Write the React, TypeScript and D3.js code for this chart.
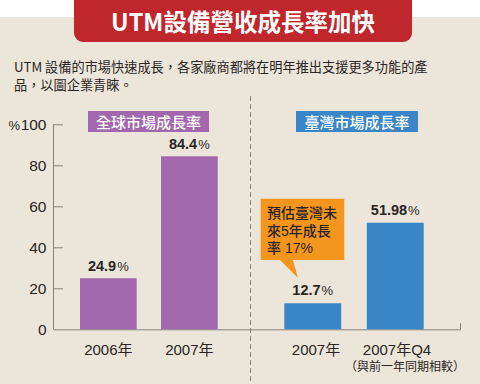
import React from "react";
import * as d3 from "d3";

const globalCategories = ["2006年", "2007年"];
const globalValues = [24.9, 84.4];
const globalLabels = ["24.9", "84.4"];
const taiwanCategories = ["2007年", "2007年Q4"];
const taiwanValues = [12.7, 51.98];
const taiwanLabels = ["12.7", "51.98"];
const yTicks = [0, 20, 40, 60, 80, 100];
const calloutLines = ["預估臺灣未", "來5年成長", "率 17%"];

const FONT = "'Liberation Sans', 'Noto Sans CJK TC', sans-serif";
const CJK = "'Noto Sans CJK TC', 'Liberation Sans', sans-serif";

export default function App() {
  const W = 480, H = 384;
  const y = d3.scaleLinear().domain([0, 100]).range([329.3, 124.3]);
  const xG = d3.scaleBand().domain(globalCategories).range([80, 217.7]).paddingInner(0.3).paddingOuter(0);
  const xT = d3.scaleBand().domain(taiwanCategories).range([284.3, 423.7]).paddingInner(0.31).paddingOuter(0);
  const purple = "#a367ad";
  const blue = "#3b86c7";
  const axisC = "#8a8178";
  const textC = "#2a2522";

  return (
    <svg width={W} height={H} style={{ position: "absolute", left: 0, top: 0 }}>
      <rect x={0} y={0} width={W} height={H} fill="#fff" />
      <rect x={0} y={17} width={W} height={H - 17} fill="#ece6da" />
      <rect x={74} y={0} width={338} height={42} rx={9} fill="#c0272d" />
      <rect x={74} y={-10} width={338} height={20} fill="#c0272d" />
      <text x={243} y={31} textAnchor="middle" fill="#fff" fontFamily={CJK} fontWeight="bold" fontSize={23.5}>UTM設備營收成長率加快</text>
      <text x={14} y={72} fill={textC} fontFamily={CJK} fontSize={13.2}>UTM 設備的市場快速成長，各家廠商都將在明年推出支援更多功能的產</text>
      <text x={14} y={90} fill={textC} fontFamily={CJK} fontSize={13.2}>品，以圖企業青睞。</text>

      {/* dashed divider */}
      <line x1={250.5} x2={250.5} y1={96} y2={H} stroke={axisC} strokeWidth={1} strokeDasharray="5,3" />

      {/* y axis */}
      <line x1={53.5} x2={53.5} y1={y(100)} y2={y(0)} stroke={axisC} strokeWidth={1} />
      {yTicks.map((t) => (
        <g key={t}>
          {t > 0 && <line x1={53.5} x2={63} y1={y(t) + 0.5} y2={y(t) + 0.5} stroke={axisC} strokeWidth={1} />}
          <text x={46.5} y={y(t) + 5.5} textAnchor="end" fill={textC} fontFamily={FONT} fontSize={15.5}>{t}</text>
        </g>
      ))}
      <text x={20} y={y(100) + 5.5} textAnchor="end" fill={textC} fontFamily={FONT} fontSize={13}>%</text>
      {/* x axis */}
      <line x1={53.5} x2={460.5} y1={y(0) + 0.5} y2={y(0) + 0.5} stroke={axisC} strokeWidth={1} />
      <line x1={460.5} x2={460.5} y1={y(0) - 6} y2={y(0) + 0.5} stroke={axisC} strokeWidth={1} />

      {/* legend boxes */}
      <rect x={88} y={111} width={121} height={21} fill={purple} />
      <text x={148.5} y={127.5} textAnchor="middle" fill="#fff" fontFamily={CJK} fontWeight="500" fontSize={15}>全球市場成長率</text>
      <rect x={296} y={111} width={122} height={21} fill={blue} />
      <text x={357} y={127.5} textAnchor="middle" fill="#fff" fontFamily={CJK} fontWeight="500" fontSize={15}>臺灣市場成長率</text>

      {/* global bars */}
      {globalCategories.map((c, i) => (
        <g key={"g" + c}>
          <rect x={xG(c)} y={y(globalValues[i])} width={xG.bandwidth()} height={y(0) - y(globalValues[i])} fill={purple} />
          <text x={xG(c)! + xG.bandwidth() / 2} y={y(globalValues[i]) - 7} textAnchor="middle" fill={textC} fontFamily={FONT} fontSize={14.5}>
            <tspan fontWeight="bold">{globalLabels[i]}</tspan><tspan fontSize={13} dx={1}>%</tspan>
          </text>
          <text x={xG(c)! + xG.bandwidth() / 2} y={355} textAnchor="middle" fill={textC} fontFamily={FONT} fontSize={15}>{c}</text>
        </g>
      ))}

      {/* taiwan bars */}
      {taiwanCategories.map((c, i) => (
        <g key={"t" + c}>
          <rect x={xT(c)} y={y(taiwanValues[i])} width={xT.bandwidth()} height={y(0) - y(taiwanValues[i])} fill={blue} />
          <text x={xT(c)! + xT.bandwidth() / 2} y={y(taiwanValues[i]) - 8} textAnchor="middle" fill={textC} fontFamily={FONT} fontSize={14.5}>
            <tspan fontWeight="bold">{taiwanLabels[i]}</tspan><tspan fontSize={13} dx={1}>%</tspan>
          </text>
        </g>
      ))}
      <text x={316} y={355} textAnchor="middle" fill={textC} fontFamily={FONT} fontSize={15}>{taiwanCategories[0]}</text>
      <text x={397} y={355} textAnchor="middle" fill={textC} fontFamily={FONT} fontSize={15}>{taiwanCategories[1]}</text>
      <text x={405} y={371} textAnchor="middle" fill={textC} fontFamily={CJK} fontSize={12}>（與前一年同期相較）</text>

      {/* callout */}
      <path d="M260.7,198.7 H344.3 V260 H293 L298,278 L280,260 H260.7 Z" fill="#f4961e" />
      {calloutLines.map((l, i) => (
        <text key={l} x={267} y={218 + i * 17.5} fill={textC} fontFamily={FONT} fontWeight="500" fontSize={14}>{l}</text>
      ))}
    </svg>
  );
}
